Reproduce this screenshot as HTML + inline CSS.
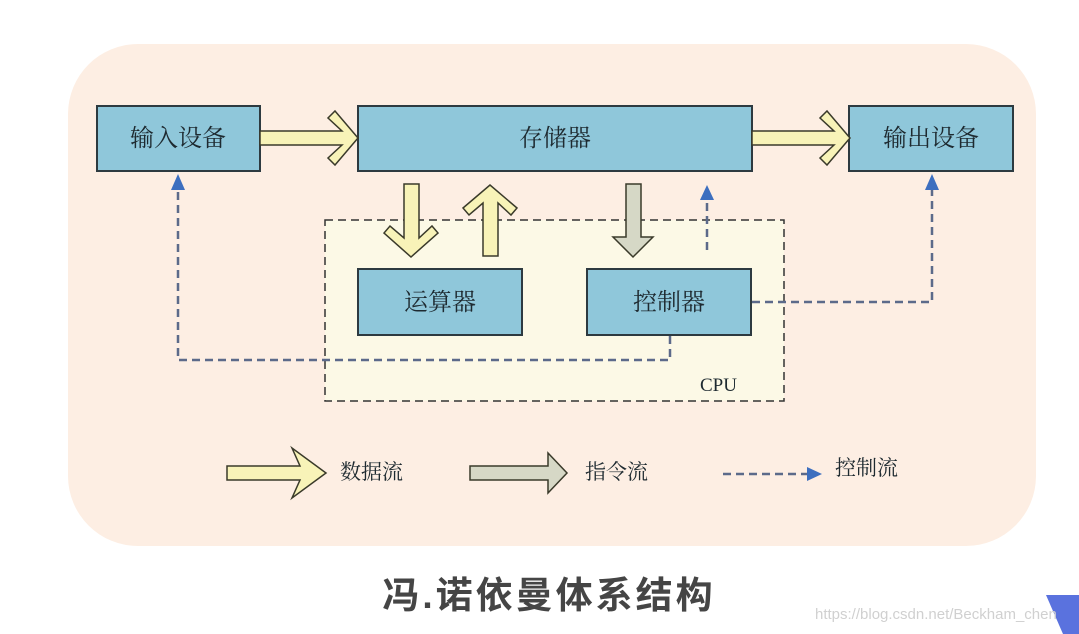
<!DOCTYPE html>
<html><head><meta charset="utf-8"><style>
html,body{margin:0;padding:0;background:#fff;width:1079px;height:634px;overflow:hidden}
svg{display:block}
text{font-family:"Liberation Serif","Noto Serif CJK SC","Noto Sans CJK SC",serif;fill:#1e2a30}
</style></head><body>
<svg width="1079" height="634" viewBox="0 0 1079 634" xmlns="http://www.w3.org/2000/svg">
<rect x="68" y="44" width="968" height="502" rx="70" fill="#fdeee3"/>
<!-- CPU box -->
<rect x="325" y="220" width="459" height="181" fill="#fcf9e6" stroke="#333" stroke-width="1.5" stroke-dasharray="8,5"/>
<text x="700" y="391" font-size="19">CPU</text>
<!-- boxes -->
<g fill="#8fc7da" stroke="#2d3a40" stroke-width="2">
<rect x="97" y="106" width="163" height="65"/>
<rect x="358" y="106" width="394" height="65"/>
<rect x="849" y="106" width="164" height="65"/>
<rect x="358" y="269" width="164" height="66"/>
<rect x="587" y="269" width="164" height="66"/>
</g>
<g font-size="24" text-anchor="middle">
<text x="178" y="146">输入设备</text>
<text x="555" y="146">存储器</text>
<text x="931" y="146">输出设备</text>
<text x="440" y="310">运算器</text>
<text x="669" y="310">控制器</text>
</g>
<!-- yellow arrows -->
<g fill="#f8f3b8" stroke="#3a3a2a" stroke-width="1.5">
<polygon points="260,131 342,131 328,118 335,111 358,138 335,165 328,158 342,145 260,145"/>
<polygon points="752,131 834,131 820,118 827,111 850,138 827,165 820,158 834,145 752,145"/>
<polygon points="404,184 419,184 419,238 432,226 438,233 411,257 384,233 390,226 404,238"/>
<polygon points="483,256 498,256 498,203 511,215 517,208 490,185 463,208 469,215 483,203"/>
<polygon points="227,466 300,466 292,448 326,473 292,498 300,480 227,480"/>
</g>
<g fill="#d6d8c6" stroke="#3a3a2a" stroke-width="1.5">
<polygon points="626,184 641,184 641,237 653,237 633,257 613,237 626,237"/>
<polygon points="470,466 548,466 548,453 567,473 548,493 548,480 470,480"/>
</g>
<!-- control lines -->
<g fill="none" stroke="#5c6a8a" stroke-width="2.5" stroke-dasharray="8,5">
<polyline points="670,336 670,360 178,360 178,188"/>
<polyline points="752,302 932,302 932,188"/>
<line x1="707" y1="250" x2="707" y2="196"/>
<line x1="723" y1="474" x2="808" y2="474"/>
</g>
<g fill="#3d6fbf">
<polygon points="178,174 171,190 185,190"/>
<polygon points="932,174 925,190 939,190"/>
<polygon points="707,185 700,200 714,200"/>
<polygon points="822,474 807,467 807,481"/>
</g>
<g font-size="21">
<text x="340" y="479">数据流</text>
<text x="585" y="479">指令流</text>
<text x="835" y="475">控制流</text>
</g>
<text x="549" y="608" font-size="37" font-weight="bold" text-anchor="middle" letter-spacing="3" style="font-family:'Liberation Sans','Noto Sans CJK SC',sans-serif;fill:#454545">冯.诺依曼体系结构</text>
<polygon points="1046,595 1079,595 1079,634 1063,634" fill="#5a72de"/>
<text x="815" y="619" font-size="15" style="font-family:'Liberation Sans',sans-serif;fill:#d0d0d0">https://blog.csdn.net/Beckham_chen</text>
</svg>
</body></html>
